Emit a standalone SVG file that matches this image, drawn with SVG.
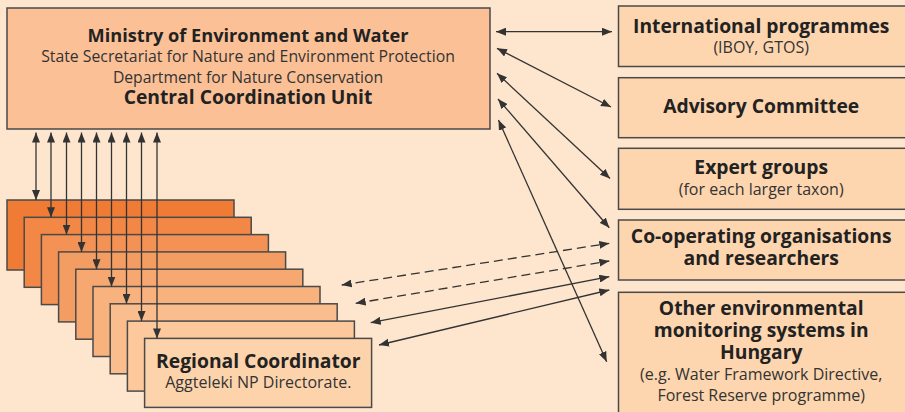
<svg xmlns="http://www.w3.org/2000/svg" width="905" height="412" viewBox="0 0 905 412">
<defs>
<marker id="ah" viewBox="0 0 10 8" refX="10" refY="4" markerWidth="10" markerHeight="8" markerUnits="userSpaceOnUse" orient="auto-start-reverse">
<path d="M0,0 L10,4 L0,8 z" fill="#333"/>
</marker>
<style>
.bx{stroke:#4a4a4a;stroke-width:1.5}
.t{font-family:"Open Sans","Noto Sans",sans-serif;fill:#222;text-anchor:middle}
.b{font-weight:bold;font-size:19.3px}
.n{font-weight:normal;fill:#333;font-size:16px}
.c{stroke:#333;stroke-width:1.3;fill:none;marker-start:url(#ah);marker-end:url(#ah)}
.d{stroke-dasharray:9,5}
</style>
</defs>
<rect x="0" y="0" width="905" height="412" fill="#FEE5CD"/>
<g id="central">
<rect class="bx" x="7" y="8" width="483" height="121" fill="#FBC096"/>
<text class="t b" x="248" y="41.5" style="font-size:18.2px">Ministry of Environment and Water</text>
<text class="t n" x="248" y="62" style="font-size:15.8px">State Secretariat for Nature and Environment Protection</text>
<text class="t n" x="248" y="82.5" style="font-size:15.7px">Department for Nature Conservation</text>
<text class="t b" x="248" y="104">Central Coordination Unit</text>
</g>
<g id="regional-stack">
<rect class="bx" x="7" y="200" width="227" height="70" fill="#F07B35"/>
<rect class="bx" x="24.2" y="217.3" width="227" height="70" fill="#F28746"/>
<rect class="bx" x="41.4" y="234.6" width="227" height="70" fill="#F39254"/>
<rect class="bx" x="58.6" y="251.9" width="227" height="70" fill="#F49D62"/>
<rect class="bx" x="75.8" y="269.2" width="227" height="70" fill="#F6A870"/>
<rect class="bx" x="93" y="286.5" width="227" height="70" fill="#F8B27E"/>
<rect class="bx" x="110.2" y="303.8" width="227" height="70" fill="#FABD8D"/>
<rect class="bx" x="127.4" y="321.1" width="227" height="70" fill="#FCC89C"/>
</g>
<g id="regional">
<rect class="bx" x="144.6" y="338.4" width="227" height="69" fill="#FDD3AB"/>
<text class="t b" x="258.3" y="367.7">Regional Coordinator</text>
<text class="t n" x="258.3" y="388.3">Aggteleki NP Directorate.</text>
</g>
<g id="international">
<rect class="bx" x="618.5" y="6" width="300" height="60.5" fill="#FDD5AE"/>
<text class="t b" x="761.2" y="33.3">International programmes</text>
<text class="t n" x="761.2" y="53.3">(IBOY, GTOS)</text>
</g>
<g id="advisory">
<rect class="bx" x="618.5" y="77.7" width="300" height="60" fill="#FDD5AE"/>
<text class="t b" x="761.2" y="113.3">Advisory Committee</text>
</g>
<g id="expert">
<rect class="bx" x="618.5" y="148.3" width="300" height="61" fill="#FDD5AE"/>
<text class="t b" x="761.2" y="174">Expert groups</text>
<text class="t n" x="761.2" y="195">(for each larger taxon)</text>
</g>
<g id="cooperating">
<rect class="bx" x="618.5" y="220" width="300" height="60" fill="#FDD5AE"/>
<text class="t b" x="761.2" y="243.3">Co-operating organisations</text>
<text class="t b" x="761.2" y="265">and researchers</text>
</g>
<g id="other">
<rect class="bx" x="618.5" y="292.3" width="300" height="130" fill="#FDD5AE"/>
<text class="t b" x="761.2" y="315">Other environmental</text>
<text class="t b" x="761.2" y="336.7">monitoring systems in</text>
<text class="t b" x="761.2" y="359">Hungary</text>
<text class="t n" x="761.2" y="380">(e.g. Water Framework Directive,</text>
<text class="t n" x="761.2" y="401">Forest Reserve programme)</text>
</g>
<g id="connectors">
<line class="c" x1="36" y1="132.5" x2="36" y2="200"/>
<line class="c" x1="51" y1="132.5" x2="51" y2="217.3"/>
<line class="c" x1="66.5" y1="132.5" x2="66.5" y2="234.6"/>
<line class="c" x1="81.5" y1="132.5" x2="81.5" y2="251.9"/>
<line class="c" x1="96.5" y1="132.5" x2="96.5" y2="269.2"/>
<line class="c" x1="111.5" y1="132.5" x2="111.5" y2="286.5"/>
<line class="c" x1="126.5" y1="132.5" x2="126.5" y2="303.8"/>
<line class="c" x1="141.5" y1="132.5" x2="141.5" y2="321.1"/>
<line class="c" x1="157" y1="132.5" x2="157" y2="338.4"/>
<line class="c" x1="496" y1="31.7" x2="612" y2="31.7"/>
<line class="c" x1="497" y1="48.3" x2="611" y2="107"/>
<line class="c" x1="497" y1="73.3" x2="610" y2="178.5"/>
<line class="c" x1="498" y1="99" x2="609.3" y2="227.7"/>
<line class="c" x1="498.5" y1="120" x2="606.7" y2="361.7"/>
<line class="c d" x1="341.7" y1="285" x2="609.3" y2="243.3"/>
<line class="c d" x1="355.7" y1="303.3" x2="609.3" y2="261"/>
<line class="c" x1="370.7" y1="322.7" x2="609.3" y2="276.7"/>
<line class="c" x1="379" y1="345" x2="609.3" y2="290"/>
</g>
</svg>
